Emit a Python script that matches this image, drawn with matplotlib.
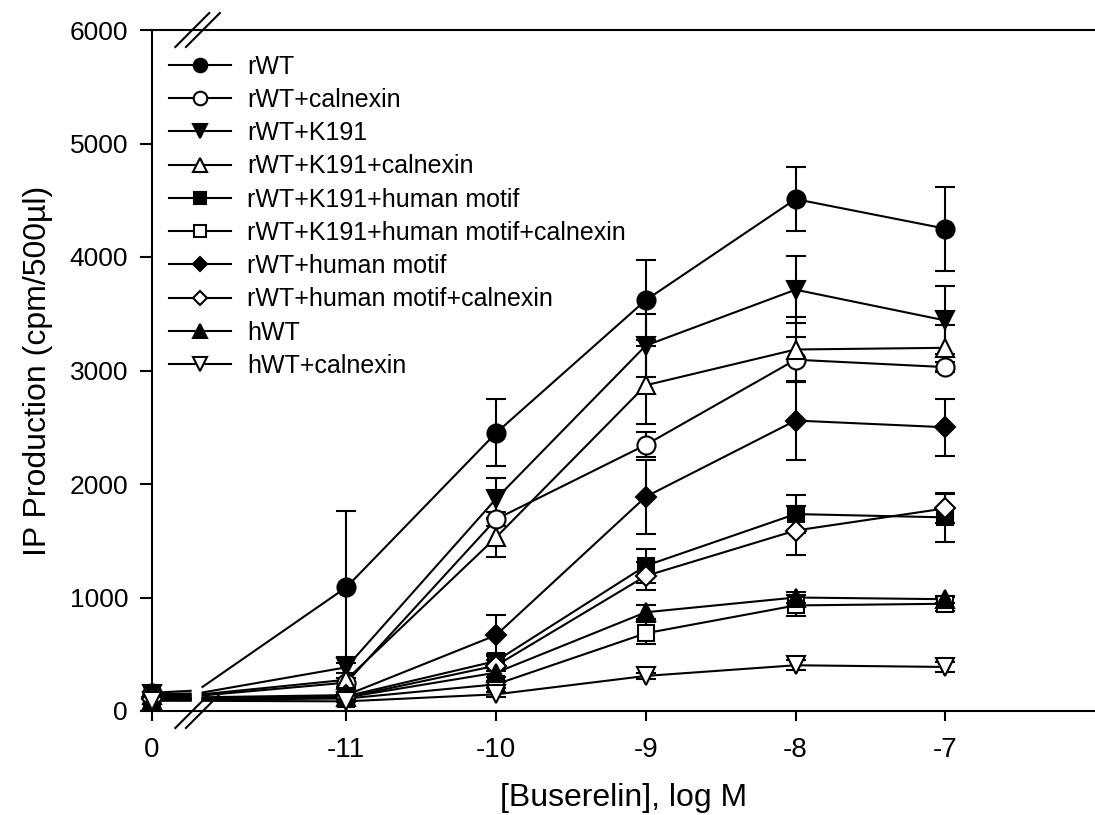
import matplotlib
matplotlib.use('Agg')
import matplotlib.pyplot as plt
from matplotlib.lines import Line2D

plt.rcParams['font.family'] = ['Liberation Sans', 'DejaVu Sans']

# ---------------- data ----------------
tick_labels = ['0', '-11', '-10', '-9', '-8', '-7']
log_conc = [-11, -10, -9, -8, -7]          # control (0) is plotted left of the break

names = ['rWT', 'rWT+calnexin', 'rWT+K191', 'rWT+K191+calnexin',
         'rWT+K191+human motif', 'rWT+K191+human motif+calnexin',
         'rWT+human motif', 'rWT+human motif+calnexin',
         'hWT', 'hWT+calnexin']

# values: [control, -11, -10, -9, -8, -7]
rWT = [160, 1090, 2450, 3620, 4510, 4250]
rWT_err = [0, 670, 295, 350, 280, 370]
rWT_cal = [130, 250, 1690, 2345, 3095, 3030]
rWT_cal_err = [0, 40, 60, 110, 200, 45]
rWT_K191 = [150, 385, 1870, 3220, 3712, 3441]
rWT_K191_err = [0, 95, 180, 280, 295, 300]
rWT_K191_cal = [140, 275, 1530, 2870, 3185, 3200]
rWT_K191_cal_err = [0, 60, 170, 345, 290, 200]
rWT_K191_hm = [110, 130, 440, 1280, 1735, 1706]
rWT_K191_hm_err = [0, 20, 60, 150, 170, 215]
rWT_K191_hm_cal = [100, 110, 235, 685, 930, 945]
rWT_K191_hm_cal_err = [0, 10, 30, 95, 95, 60]
rWT_hm = [120, 140, 668, 1888, 2559, 2500]
rWT_hm_err = [0, 20, 180, 325, 350, 250]
rWT_hm_cal = [110, 120, 400, 1190, 1590, 1785]
rWT_hm_cal_err = [0, 20, 50, 125, 215, 130]
hWT = [100, 120, 338, 870, 1000, 985]
hWT_err = [0, 10, 40, 60, 45, 30]
hWT_cal = [90, 85, 147, 309, 403, 388]
hWT_cal_err = [0, 10, 20, 30, 45, 40]

values = [rWT, rWT_cal, rWT_K191, rWT_K191_cal, rWT_K191_hm, rWT_K191_hm_cal,
          rWT_hm, rWT_hm_cal, hWT, hWT_cal]
errors = [rWT_err, rWT_cal_err, rWT_K191_err, rWT_K191_cal_err, rWT_K191_hm_err,
          rWT_K191_hm_cal_err, rWT_hm_err, rWT_hm_cal_err, hWT_err, hWT_cal_err]

# ---------------- style ----------------
markers = ['o', 'o', 'v', '^', 's', 's', 'D', 'D', '^', 'v']
filled = [True, False, True, False, True, False, True, False, True, False]
msizes = {'o': 13, 'v': 13, '^': 13, 's': 11.5, 'D': 10}

POS0 = -12.3          # axis position of the control ("0")
BRK_L, BRK_R = -12.033, -11.967
BRK_MARKS = [-12.029, -11.958]
F1, F2 = 0.02, 0.05   # fraction of the 0 -> -11 rise at either side of the break
LW = 1.5

fig = plt.figure(figsize=(10.95, 8.15), dpi=100)
ax = fig.add_axes([151.7 / 1095, 104 / 815, (1095 - 151.7) / 1095, 681 / 815])

for i, (vals, errs) in enumerate(zip(values, errors)):
    c, v11 = vals[0], vals[1]
    mk = markers[i]
    fc = 'k' if filled[i] else 'w'
    z = 3 + i * 0.01
    # line segments either side of the axis break
    ax.plot([POS0, BRK_L], [c, c + F1 * (v11 - c)], color='k', lw=LW, zorder=2,
            solid_capstyle='butt', clip_on=False)
    ax.plot([BRK_R] + log_conc, [c + F2 * (v11 - c)] + vals[1:], color='k', lw=LW,
            zorder=2, solid_capstyle='butt')
    xs = [POS0] + log_conc
    ex = [x for x, e in zip(xs, errs) if e > 0]
    ey = [v for v, e in zip(vals, errs) if e > 0]
    ee = [e for e in errs if e > 0]
    cont = ax.errorbar(ex, ey, yerr=ee, fmt='none', ecolor='k', elinewidth=LW,
                       capsize=7, capthick=LW, zorder=2.5)
    for art in list(cont.lines[1]) + list(cont.lines[2]):
        art.set_clip_on(False)
    ax.plot(xs, vals, linestyle='none', marker=mk, ms=msizes[mk], mfc=fc, mec='k',
            mew=LW, zorder=z, clip_on=False)

# axis-break marks
dx = 17 / 150
dy = 17 * 6000 / 681
for xb in BRK_MARKS:
    for yv in (0, 6000):
        ax.plot([xb - dx, xb + dx], [yv - dy, yv + dy], color='k', lw=LW,
                clip_on=False, zorder=5)

ax.set_xlim(POS0, -6.0)
ax.set_ylim(0, 6000)
ax.set_xticks([POS0] + log_conc)
ax.set_xticklabels(tick_labels)
ax.set_yticks(range(0, 6001, 1000))

for s in ('left', 'bottom', 'top'):
    ax.spines[s].set_linewidth(LW)
ax.spines['right'].set_visible(False)

ax.tick_params(axis='x', direction='out', length=7.5, width=LW, labelsize=20, pad=11)
ax.tick_params(axis='y', direction='out', length=8.5, width=LW, labelsize=19, pad=8.5)
ax.tick_params(top=False, right=False)

ax.set_xlabel('[Buserelin], log M', fontsize=23)
ax.xaxis.set_label_coords(0.5, -0.106)
ax.set_ylabel('IP Production (cpm/500µl)', fontsize=23)
ax.yaxis.set_label_coords(-0.105, 0.5)

handles = []
for i in range(len(names)):
    mk = markers[i]
    handles.append(Line2D([], [], color='k', lw=LW, marker=mk, ms=msizes[mk] * 0.75,
                          mfc='k' if filled[i] else 'w', mec='k', mew=LW))
ax.legend(handles, names, loc='upper left', bbox_to_anchor=(0.0183, 0.9638),
          frameon=False, fontsize=18, borderpad=0, borderaxespad=0,
          handlelength=2.48, handletextpad=0.64, labelspacing=0.37)

fig.savefig('out.png', dpi=100)
